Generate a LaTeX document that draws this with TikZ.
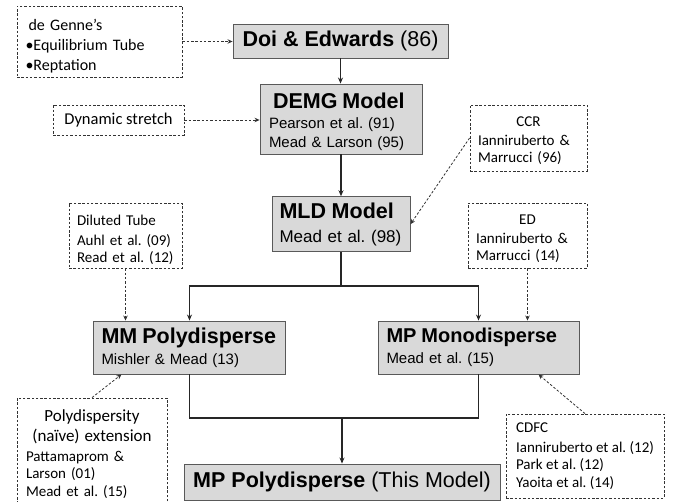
\documentclass[tikz,border=0pt]{standalone}
\usepackage{fontspec}
\usepackage{tikz}
\usetikzlibrary{arrows.meta}
\newfontfamily\arialfont{Liberation Sans}
\newfontfamily\calibrifont{Carlito}
\newcommand{\modelname}[2][21.5]{\mbox{\fontsize{#1}{24}\selectfont\bfseries #2}}
\frenchspacing

\begin{document}
\begin{tikzpicture}[x=1pt,y=-1pt,
    model/.style={draw=black!65,fill=gray!30,line width=0.9pt,font=\arialfont,inner sep=0pt},
    note/.style={draw=black!80,dash pattern=on 2.5pt off 1.8pt,line width=0.8pt,font=\calibrifont\fontsize{15}{17.5}\selectfont,inner sep=0pt},
    trunk/.style={draw=black!85,line width=1.1pt},
    link/.style={trunk,-{Stealth[length=6pt,width=5pt]}},
    cite/.style={draw=black!80,line width=0.8pt,dash pattern=on 2.5pt off 1.8pt,-{Stealth[length=5pt,width=4.5pt]}}]
    \useasboundingbox (0,0) rectangle (678,502);

    \node[note,minimum width=165pt,minimum height=71pt,text width=148pt,align=left,font=\calibrifont\fontsize{16}{19.8}\selectfont] (genne) at (99.5,41.5) {\rule{0pt}{20pt}\hspace*{3pt}de Genne’s\\•Equilibrium Tube\\•Reptation};
    \node[model,minimum width=215pt,minimum height=34pt] (doi) at (340.5,41) {{\fontsize{21.5}{24}\selectfont\textbf{Doi \& Edwards} (86)}};
    \node[note,minimum width=131pt,minimum height=30pt,font=\calibrifont\fontsize{16.5}{20}\selectfont] (stretch) at (118.5,120) {Dynamic stretch};
    \node[model,minimum width=162pt,minimum height=70pt,text width=144pt,align=left,font=\arialfont\fontsize{15}{19}\selectfont] (demg) at (341,119) {\rule{0pt}{21.5pt}\hspace*{4pt}\modelname{DEMG Model}\\[1pt]Pearson et al. (91)\\Mead \& Larson (95)};
    \node[note,minimum width=117pt,minimum height=66pt,text width=101pt,align=left] (ccr) at (528.5,138) {\rule{0pt}{15.5pt}\hfill CCR\hfill\null\\[1.5pt]Ianniruberto \&\\Marrucci (96)};
    \node[model,minimum width=138pt,minimum height=55pt,text width=123pt,align=left,font=\arialfont\fontsize{17}{24}\selectfont] (mld) at (341,224.2) {\modelname{MLD Model}\\Mead et al. (98)};
    \node[note,minimum width=113pt,minimum height=65pt,text width=97pt,align=left] (diluted) at (125.5,235.5) {\rule{0pt}{19.5pt}Diluted Tube\\[2pt]Auhl et al. (09)\\Read et al. (12)};
    \node[note,minimum width=119pt,minimum height=65pt,text width=103pt,align=left] (ed) at (527.5,235.5) {\rule{0pt}{16.5pt}\hfill ED\hfill\null\\[1.5pt]Ianniruberto \&\\Marrucci (14)};
    \node[model,minimum width=192pt,minimum height=53pt,text width=176pt,align=left,font=\arialfont\fontsize{15}{20.7}\selectfont] (mmpoly) at (189.5,347.5) {\modelname{MM Polydisperse}\\Mishler \& Mead (13)};
    \node[model,minimum width=201pt,minimum height=53pt,text width=184pt,align=left,font=\arialfont\fontsize{15}{21}\selectfont] (mpmono) at (478.5,347.5) {\modelname[20]{MP Monodisperse}\\Mead et al. (15)};
    \node[note,minimum width=150pt,minimum height=104pt,text width=132pt,align=left] (naive) at (92,450) {\rule{0pt}{20.5pt}\hfill{\fontsize{17}{20}\selectfont Polydispersity}\hfill\null\\[2.5pt]\hfill{\fontsize{17}{20}\selectfont (naïve) extension}\hfill\null\\[2pt]Pattamaprom \&\\Larson (01)\\Mead et al. (15)};
    \node[note,minimum width=158pt,minimum height=84pt,align=left] (cdfc) at (585,456) {CDFC\\[2.5pt]Ianniruberto et al. (12)\\Park et al. (12)\\Yaoita et al. (14)};
    \node[model,minimum width=316pt,minimum height=36pt] (mppoly) at (342,482) {{\fontsize{21.5}{24}\selectfont\textbf{MP Polydisperse} (This Model)}};

    \coordinate (split) at (341,286);
    \coordinate (merge) at (342,418);

    \draw[cite] (genne.east) -- (genne.east -| doi.west);
    \draw[cite] (stretch.east) -- (stretch.east -| demg.west);
    \draw[link] (doi.south) -- (doi.south |- demg.north);
    \draw[link] (demg.south) -- (demg.south |- mld.north);
    \draw[cite] (ccr.west) -- (mld.east);
    \draw[trunk] (mld.south) -- (split);
    \draw[link] (split) -| (mmpoly.north);
    \draw[link] (split) -| (mpmono.north);
    \draw[cite] (diluted.south) -- (diluted.south |- mmpoly.north);
    \draw[cite] (ed.south) -- (ed.south |- mpmono.north);
    \draw[cite] (naive.north) -- ([xshift=-68pt]mmpoly.south);
    \draw[cite] (cdfc.north) -- ([xshift=60pt]mpmono.south);
    \draw[trunk] (mmpoly.south) |- (merge) -| (mpmono.south);
    \draw[link] (merge) -- (merge |- mppoly.north);
\end{tikzpicture}
\end{document}
